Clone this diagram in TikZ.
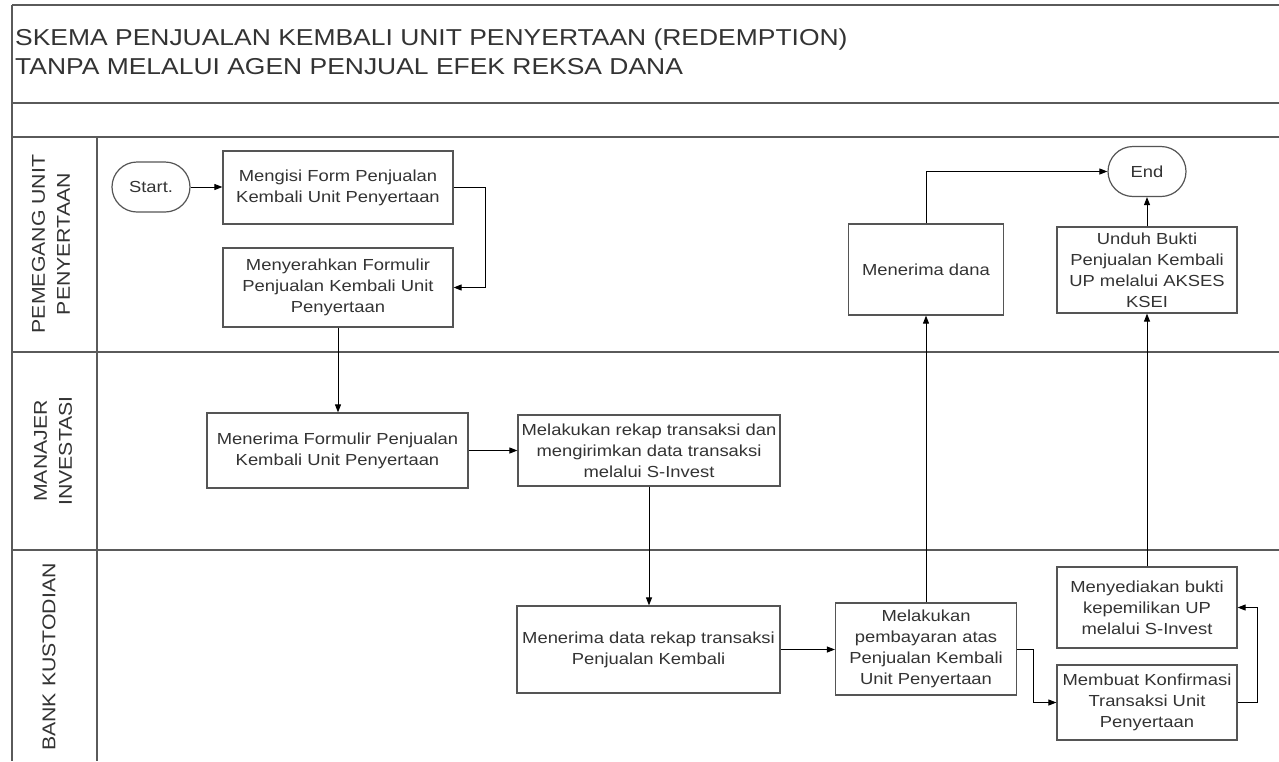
\documentclass[tikz,border=0pt]{standalone}
\usepackage{fontspec}
\setmainfont[FakeStretch=1.15]{Liberation Sans}
\usetikzlibrary{arrows.meta,shapes.misc}
\definecolor{framegray}{HTML}{5A5A5A}
\definecolor{boxgray}{HTML}{555555}
\definecolor{textgray}{HTML}{333333}
\tikzset{
  frameline/.style={draw=framegray, line width=1.6pt},
  stepbox/.style={draw=boxgray, line width=1.2pt, align=center, text=textgray,
    font=\fontsize{16}{21}\selectfont, inner sep=2pt},
  terminal/.style={rounded rectangle, draw=boxgray, line width=1.2pt, text=textgray,
    font=\fontsize{16}{21}\selectfont, minimum width=82pt, minimum height=50pt, inner sep=2pt},
  conn/.style={draw=black, line width=0.9pt, -{Triangle[length=8pt,width=6pt]}},
  lanelabel/.style={rotate=90, align=center, text=textgray, font=\fontsize{18.5}{25}\selectfont, inner sep=0pt},
  titletext/.style={anchor=north west, align=left, text=textgray, font=\fontsize{23}{29}\selectfont, inner sep=0pt}
}
\begin{document}
\begin{tikzpicture}[x=1pt,y=-1pt]
\useasboundingbox (0,0) rectangle (1279,761);
\fill[white] (0,0) rectangle (1279,761);
% frame
\draw[frameline] (12,5) -- (1279,5);
\draw[frameline] (12,5) -- (12,761);
\draw[frameline] (12,103) -- (1279,103);
\draw[frameline] (12,137) -- (1279,137);
\draw[frameline] (12,352) -- (1279,352);
\draw[frameline] (12,550) -- (1279,550);
\draw[frameline] (97,137) -- (97,761);
% title
\node[titletext] (title) at (15,29) {SKEMA PENJUALAN KEMBALI UNIT PENYERTAAN (REDEMPTION)\\TANPA MELALUI AGEN PENJUAL EFEK REKSA DANA};
% lane labels
\node[lanelabel] (lane1) at (51,244) {PEMEGANG UNIT\\PENYERTAAN};
\node[lanelabel] (lane2) at (53,451) {MANAJER\\INVESTASI};
\node[lanelabel] (lane3) at (49,657) {BANK KUSTODIAN};
% nodes
\node[terminal] (start) at (151,187) {Start.};
\node[stepbox, minimum width=230pt, minimum height=73pt] (A) at (338,187.5) {Mengisi Form Penjualan\\Kembali Unit Penyertaan};
\node[stepbox, minimum width=230pt, minimum height=79pt] (B) at (338,287.5) {Menyerahkan Formulir\\Penjualan Kembali Unit\\Penyertaan};
\node[stepbox, minimum width=261pt, minimum height=75pt] (C) at (337.5,450.5) {Menerima Formulir Penjualan\\Kembali Unit Penyertaan};
\node[stepbox, minimum width=262pt, minimum height=71pt] (D) at (649,450.5) {Melakukan rekap transaksi dan\\mengirimkan data transaksi\\melalui S-Invest};
\node[stepbox, minimum width=263pt, minimum height=87pt] (E) at (648.5,649.5) {Menerima data rekap transaksi\\Penjualan Kembali};
\node[stepbox, minimum width=181pt, minimum height=92pt] (F) at (926,649) {Melakukan\\pembayaran atas\\Penjualan Kembali\\Unit Penyertaan};
\node[stepbox, minimum width=155pt, minimum height=91pt] (G) at (926,269.5) {Menerima dana};
\node[terminal] (end) at (1147,171.5) {End};
\node[stepbox, minimum width=180pt, minimum height=86pt] (H) at (1147,270) {Unduh Bukti\\Penjualan Kembali\\UP melalui AKSES\\KSEI};
\node[stepbox, minimum width=180pt, minimum height=81pt] (I) at (1147,607.5) {Menyediakan bukti\\kepemilikan UP\\melalui S-Invest};
\node[stepbox, minimum width=180pt, minimum height=75pt] (J) at (1147,702.5) {Membuat Konfirmasi\\Transaksi Unit\\Penyertaan};
% connectors
\draw[conn] (start.east) -- (start.east -| A.west);
\draw[conn] (A.east) -- ++(32,0) |- (B.east);
\draw[conn] (B.south) -- (B.south |- C.north);
\draw[conn] (C.east) -- (C.east -| D.west);
\draw[conn] (D.south) -- (D.south |- E.north);
\draw[conn] (E.east) -- (E.east -| F.west);
\draw[conn] (F.north) -- (F.north |- G.south);
\draw[conn] (G.north) |- (end.west);
\draw[conn] (H.north) -- (end.south);
\draw[conn] (I.north) -- (H.south);
\draw[conn] (F.east) -- ++(16,0) |- (J.west);
\draw[conn] (J.east) -- ++(20,0) |- (I.east);
\end{tikzpicture}
\end{document}
